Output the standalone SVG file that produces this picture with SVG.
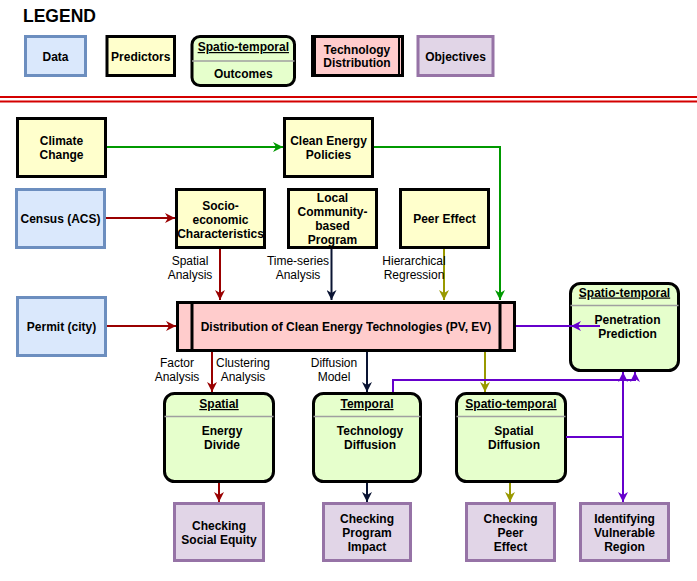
<svg xmlns="http://www.w3.org/2000/svg" width="697" height="581" viewBox="0 0 697 581">
<style>
text{font-family:"Liberation Sans",Arial,sans-serif;font-size:12px;fill:#000;text-anchor:middle}
.b{font-weight:bold}
.u{font-weight:bold;text-decoration:underline}
.pred{fill:#ffffcc;stroke:#000;stroke-width:3}
.data{fill:#dae8fc;stroke:#6c8ebf;stroke-width:3}
.out{fill:#e6ffcc;stroke:#000;stroke-width:3}
.div{stroke:#a0a0a0;stroke-width:1.5}
.obj{fill:#e1d5e7;stroke:#9673a6;stroke-width:3}
.tech{fill:#ffcccc;stroke:#000;stroke-width:3}
.c{fill:none;stroke-width:2}
</style>
<defs>
<marker id="aG" viewBox="0 0 10 10" refX="10" refY="5" markerWidth="10" markerHeight="10" markerUnits="userSpaceOnUse" orient="auto"><path d="M0,0 L10,5 L0,10 L3,5 Z" fill="#009900"/></marker>
<marker id="aR" viewBox="0 0 10 10" refX="10" refY="5" markerWidth="10" markerHeight="10" markerUnits="userSpaceOnUse" orient="auto"><path d="M0,0 L10,5 L0,10 L3,5 Z" fill="#990000"/></marker>
<marker id="aN" viewBox="0 0 10 10" refX="10" refY="5" markerWidth="10" markerHeight="10" markerUnits="userSpaceOnUse" orient="auto"><path d="M0,0 L10,5 L0,10 L3,5 Z" fill="#0a1433"/></marker>
<marker id="aO" viewBox="0 0 10 10" refX="10" refY="5" markerWidth="10" markerHeight="10" markerUnits="userSpaceOnUse" orient="auto"><path d="M0,0 L10,5 L0,10 L3,5 Z" fill="#999900"/></marker>
<marker id="aP" viewBox="0 0 10 10" refX="10" refY="5" markerWidth="10" markerHeight="10" markerUnits="userSpaceOnUse" orient="auto"><path d="M0,0 L10,5 L0,10 L3,5 Z" fill="#6600cc"/></marker>
</defs>

<!-- Legend -->
<g id="legend">
<text x="23" y="22" style="font-size:17.5px;font-weight:bold;text-anchor:start">LEGEND</text>
<g id="legend-data"><rect class="data" x="25.5" y="36.5" width="60" height="39"/><text class="b" x="55.5" y="61">Data</text></g>
<g id="legend-predictors"><rect class="pred" x="107" y="36.5" width="67.5" height="39"/><text class="b" x="140.8" y="61">Predictors</text></g>
<g id="legend-outcomes"><rect class="out" x="192" y="36.5" width="102.5" height="49" rx="8"/><line class="div" x1="192" y1="61" x2="294.5" y2="61"/><text class="u" x="243.3" y="51">Spatio-temporal</text><text class="b" x="243.3" y="78">Outcomes</text></g>
<g id="legend-tech"><rect class="tech" x="312.5" y="36.5" width="90" height="39"/><line x1="315" y1="36.5" x2="315" y2="75.5" stroke="#000" stroke-width="2"/><line x1="399" y1="36.5" x2="399" y2="75.5" stroke="#000" stroke-width="2"/><text class="b" x="357" y="54">Technology</text><text class="b" x="357" y="67">Distribution</text></g>
<g id="legend-objectives"><rect class="obj" x="418" y="36.5" width="75" height="39"/><text class="b" x="455.5" y="61">Objectives</text></g>
</g>

<g id="separator">
<line x1="0" y1="97" x2="697" y2="97" stroke="#d40000" stroke-width="2"/>
<line x1="0" y1="101.5" x2="697" y2="101.5" stroke="#d40000" stroke-width="2"/>
</g>

<!-- Nodes -->
<g id="climate-change"><rect class="pred" x="17.5" y="118.5" width="88" height="58"/><text class="b" x="61.5" y="145">Climate</text><text class="b" x="61.5" y="159">Change</text></g>
<g id="clean-energy-policies"><rect class="pred" x="284.5" y="118.5" width="88" height="58"/><text class="b" x="328.5" y="145">Clean Energy</text><text class="b" x="328.5" y="159">Policies</text></g>
<g id="census"><rect class="data" x="16.5" y="189.5" width="88" height="58"/><text class="b" x="60.5" y="222.5">Census (ACS)</text></g>
<g id="socio-economic"><rect class="pred" x="176.5" y="189.5" width="88" height="58"/><text class="b" x="220.5" y="209.5">Socio-</text><text class="b" x="220.5" y="223.5">economic</text><text class="b" x="220.5" y="237.5">Characteristics</text></g>
<g id="local-program"><rect class="pred" x="288.5" y="189.5" width="88" height="58"/><text class="b" x="332.5" y="202">Local</text><text class="b" x="332.5" y="216">Community-</text><text class="b" x="332.5" y="230">based</text><text class="b" x="332.5" y="244">Program</text></g>
<g id="peer-effect"><rect class="pred" x="400.5" y="189.5" width="88" height="58"/><text class="b" x="444.5" y="223">Peer Effect</text></g>
<g id="permit"><rect class="data" x="17.5" y="297.5" width="88" height="58"/><text class="b" x="61.5" y="330.5">Permit (city)</text></g>
<g id="distribution"><rect class="tech" x="177.5" y="302.5" width="337" height="48"/><line x1="192" y1="302.5" x2="192" y2="350.5" stroke="#000" stroke-width="3"/><line x1="500" y1="302.5" x2="500" y2="350.5" stroke="#000" stroke-width="3"/><text class="b" x="346" y="331">Distribution of Clean Energy Technologies (PV, EV)</text></g>
<g id="penetration-prediction"><rect class="out" x="570.5" y="283.5" width="108" height="87" rx="10"/><line class="div" x1="570.5" y1="305.5" x2="678.5" y2="305.5"/><text class="u" x="624.5" y="296.5">Spatio-temporal</text><text class="b" x="627.5" y="324">Penetration</text><text class="b" x="627.5" y="338">Prediction</text></g>
<g id="energy-divide"><rect class="out" x="164.5" y="393.5" width="109" height="88" rx="10"/><line class="div" x1="164.5" y1="416.5" x2="273.5" y2="416.5"/><text class="u" x="219" y="408">Spatial</text><text class="b" x="222" y="435">Energy</text><text class="b" x="222" y="449">Divide</text></g>
<g id="technology-diffusion"><rect class="out" x="313.5" y="393.5" width="107" height="88" rx="10"/><line class="div" x1="313.5" y1="416.5" x2="420.5" y2="416.5"/><text class="u" x="367" y="408">Temporal</text><text class="b" x="370" y="435">Technology</text><text class="b" x="370" y="449">Diffusion</text></g>
<g id="spatial-diffusion"><rect class="out" x="456.5" y="393.5" width="109" height="88" rx="10"/><line class="div" x1="456.5" y1="416.5" x2="565.5" y2="416.5"/><text class="u" x="511" y="408">Spatio-temporal</text><text class="b" x="514" y="435">Spatial</text><text class="b" x="514" y="449">Diffusion</text></g>
<g id="social-equity"><rect class="obj" x="174.5" y="503.5" width="89" height="57"/><text class="b" x="219" y="530">Checking</text><text class="b" x="219" y="544">Social Equity</text></g>
<g id="program-impact"><rect class="obj" x="323.5" y="503.5" width="87" height="57"/><text class="b" x="367" y="523">Checking</text><text class="b" x="367" y="537">Program</text><text class="b" x="367" y="551">Impact</text></g>
<g id="peer-effect-check"><rect class="obj" x="466.5" y="503.5" width="88" height="57"/><text class="b" x="510.5" y="523">Checking</text><text class="b" x="510.5" y="537">Peer</text><text class="b" x="510.5" y="551">Effect</text></g>
<g id="vulnerable-region"><rect class="obj" x="580.5" y="503.5" width="88" height="57"/><text class="b" x="624.5" y="523">Identifying</text><text class="b" x="624.5" y="537">Vulnerable</text><text class="b" x="624.5" y="551">Region</text></g>

<!-- Connectors -->
<g id="connectors">
<path class="c" stroke="#009900" d="M107,147 H283" marker-end="url(#aG)"/>
<path class="c" stroke="#009900" d="M374,147 H500 V300" marker-end="url(#aG)"/>
<path class="c" stroke="#990000" d="M106,218 H175" marker-end="url(#aR)"/>
<path class="c" stroke="#990000" d="M220,249 V300" marker-end="url(#aR)"/>
<path class="c" stroke="#0a1433" d="M331.5,249 V300" marker-end="url(#aN)"/>
<path class="c" stroke="#999900" d="M444,249 V300" marker-end="url(#aO)"/>
<path class="c" stroke="#990000" d="M107,326 H176" marker-end="url(#aR)"/>
<path class="c" stroke="#990000" d="M212,352 V392" marker-end="url(#aR)"/>
<path class="c" stroke="#0a1433" d="M367,352 V392" marker-end="url(#aN)"/>
<path class="c" stroke="#999900" d="M485,352 V392" marker-end="url(#aO)"/>
<path class="c" stroke="#6600cc" d="M516,326 H572"/>
<path class="c" stroke="#6600cc" d="M600,326 H571" marker-end="url(#aP)"/>
<path class="c" stroke="#6600cc" d="M393,392 V380 H635 V372" marker-end="url(#aP)"/>
<path class="c" stroke="#6600cc" d="M566,437 H623"/>
<path class="c" stroke="#6600cc" d="M623,437 V372" marker-end="url(#aP)"/>
<path class="c" stroke="#6600cc" d="M623,380 V502" marker-end="url(#aP)"/>
<path class="c" stroke="#990000" d="M219,483 V502" marker-end="url(#aR)"/>
<path class="c" stroke="#0a1433" d="M367,483 V502" marker-end="url(#aN)"/>
<path class="c" stroke="#999900" d="M510,483 V502" marker-end="url(#aO)"/>
<g id="edge-labels">
<text x="190" y="265">Spatial</text><text x="190" y="279">Analysis</text>
<text x="298" y="265">Time-series</text><text x="298" y="279">Analysis</text>
<text x="414" y="265">Hierarchical</text><text x="414" y="279">Regression</text>
<text x="177" y="367">Factor</text><text x="177" y="381">Analysis</text>
<text x="243" y="367">Clustering</text><text x="243" y="381">Analysis</text>
<text x="334" y="367">Diffusion</text><text x="334" y="381">Model</text>
</g>
</g>
</svg>
